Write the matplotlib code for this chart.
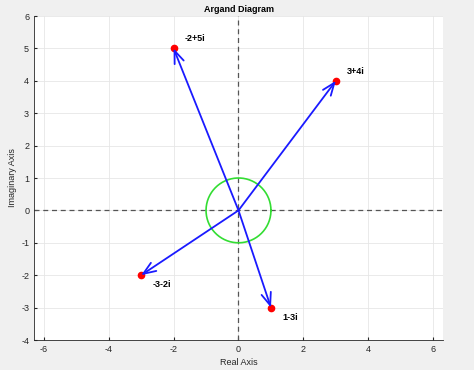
import matplotlib
matplotlib.use("Agg")
import matplotlib.pyplot as plt
import numpy as np

plt.rcParams['font.family'] = ['Liberation Sans', 'DejaVu Sans']
plt.rcParams['axes.unicode_minus'] = False

re_parts = [-2, 3, -3, 1]
im_parts = [5, 4, -2, -3]
labels = ["-2+5i", "3+4i", "-3-2i", "1-3i"]
xticks = [-6, -4, -2, 0, 2, 4, 6]
yticks = [-4, -3, -2, -1, 0, 1, 2, 3, 4, 5, 6]

fig = plt.figure(figsize=(4.74, 3.7), dpi=100, facecolor='#f0f0f0')
ax = fig.add_axes([34/474, 30/370, 409/474, 324/370])
ax.set_facecolor('white')

ax.axhline(0, color='#555555', ls='--', lw=0.9, dashes=(4, 3))
ax.axvline(0, color='#555555', ls='--', lw=0.9, dashes=(4, 3))

t = np.linspace(0, 2*np.pi, 200)
ax.plot(np.cos(t), np.sin(t), color='#33dd33', lw=1.2)

for x, y, lab in zip(re_parts, im_parts, labels):
    ax.annotate("", xy=(x, y), xytext=(0, 0),
                arrowprops=dict(arrowstyle='->,head_length=0.9,head_width=0.35',
                                color='#1a1aff', lw=1.3, shrinkA=0, shrinkB=0))
    ax.plot(x, y, 'o', color='#ff0000', ms=4.5)
    dy = 0.3 if y > 0 else -0.3
    ax.text(x + 0.35, y + dy, lab, fontsize=6.5, fontweight='bold', va='center', ha='left')

ax.set_xlim(-6.3, 6.3)
ax.set_ylim(-4, 6)
ax.set_xticks(xticks)
ax.set_yticks(yticks)
ax.tick_params(labelsize=6.5, colors='#262626', length=2, direction='in')
ax.grid(True, color='#e6e6e6', lw=0.6)
ax.set_axisbelow(True)
for s in ['top', 'right']:
    ax.spines[s].set_visible(False)
for s in ['left', 'bottom']:
    ax.spines[s].set_color('#262626')
    ax.spines[s].set_linewidth(0.6)

ax.set_title("Argand Diagram", fontsize=6.5, fontweight='bold', pad=3)
ax.set_xlabel("Real Axis", fontsize=6.5, color='#262626', labelpad=3)
ax.set_ylabel("Imaginary Axis", fontsize=6.5, color='#262626', labelpad=3)

fig.savefig("out.png", dpi=100, facecolor=fig.get_facecolor())
